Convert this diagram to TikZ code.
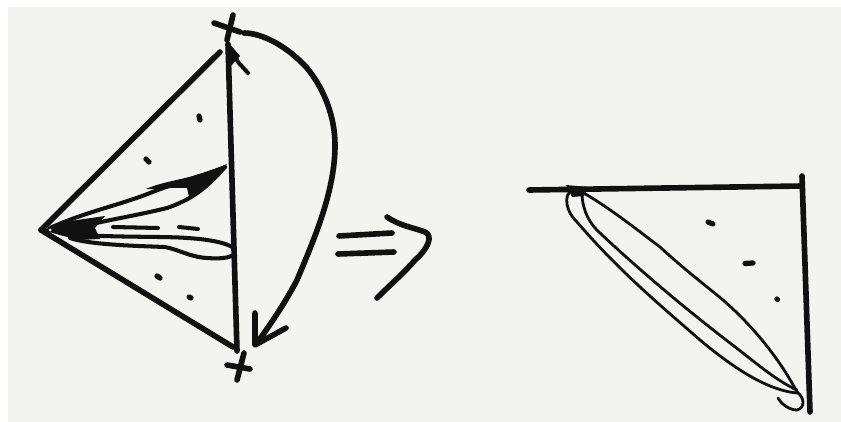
\documentclass[tikz,border=0pt]{standalone}
\usepackage{tikz}
\definecolor{paper}{HTML}{F3F4F0}
\definecolor{ink}{HTML}{111111}
\tikzset{
  heavy/.style={draw=ink, line width=3.2pt, line cap=round, line join=round},
  medium/.style={draw=ink, line width=2.3pt, line cap=round, line join=round},
  thin lobe/.style={draw=ink, line width=1.6pt, line cap=round, line join=round},
  speck/.style={draw=ink, line width=3pt, line cap=round},
}
\begin{document}
\begin{tikzpicture}[x=0.02cm, y=-0.02cm]
    \useasboundingbox (0,0) rectangle (841,422);
    \fill[white] (0,0) rectangle (841,422);
    \fill[paper] (8,7) rectangle (841,422);
    % linke Skizze: Dreieck
    \draw[heavy] (41,230) -- (220,52);
    \draw[heavy] (41,230) -- (233,347);
    \draw[heavy] (228,44) -- (237,351);
    \draw[medium] (232,50) -- (238,62) -- (248,73);
    \fill[ink] (228,42) -- (240,56) -- (231,66) -- cycle;
    % Kreuze
    \draw[heavy] (214,23) -- (240,32);
    \draw[heavy] (233,15) -- (227,40);
    \draw[heavy] (227,365) -- (250,369);
    \draw[heavy] (244,353) -- (237,380);
    % Bogen mit Spitze
    \draw[heavy] (244,33) .. controls (262,33) and (287,46) .. (307,68)
      .. controls (325,90) and (335,118) .. (335,145)
      .. controls (335,190) and (316,235) .. (297,280)
      .. controls (285,303) and (270,325) .. (257,343);
    \draw[heavy] (255,313) -- (255,345) -- (286,328);
    % Keulen links
    \draw[medium] (50,228) .. controls (85,212) and (120,205) .. (150,193)
      .. controls (175,183) and (205,175) .. (225,167);
    \draw[medium] (225,167) .. controls (205,190) and (190,200) .. (167,208)
      .. controls (135,216) and (95,222) .. (58,232);
    \fill[ink] (146,189) .. controls (165,180) and (200,178) .. (227,164)
      .. controls (215,180) and (203,192) .. (189,197) -- (187,188)
      .. controls (170,187) and (155,190) .. (146,189) -- cycle;
    \fill[ink] (42,230) -- (70,221) -- (105,216) -- (95,228) -- (100,239) -- (78,240) -- (60,235) -- cycle;
    \fill[paper] (50,230) circle (1.5);
    \draw[medium] (60,233) .. controls (100,238) and (165,236) .. (187,238)
      .. controls (205,239) and (225,242) .. (234,248);
    \draw[medium] (70,238) .. controls (90,245) and (140,246) .. (165,247)
      .. controls (180,250) and (190,257) .. (207,258)
      .. controls (220,259) and (228,258) .. (234,255);
    \draw[medium] (113,227) -- (158,228);
    \draw[medium] (179,227) -- (198,229);
    % Punkte links
    \draw[speck] (199,116) -- (200,120);
    \draw[speck] (146,159) -- (149,162);
    \draw[speck] (157,276) -- (160,278);
    \draw[speck] (189,297) -- (191,298);
    % Folgepfeil
    \draw[heavy] (339,236) -- (392,233);
    \draw[heavy] (338,254) -- (394,252);
    \draw[heavy] (387,217) .. controls (400,226) and (415,228) .. (425,232)
      .. controls (434,236) and (427,250) .. (415,260)
      .. controls (405,272) and (390,285) .. (377,298);
    % rechte Skizze
    \draw[heavy] (529,190) -- (802,186);
    \draw[heavy] (802,176) -- (810,412);
    \fill[ink] (566,185) -- (588,187) -- (584,196) -- (572,197) -- cycle;
    \draw[thin lobe] (572,190) .. controls (563,195) and (566,212) .. (577,222)
      .. controls (620,272) and (660,305) .. (700,340)
      .. controls (730,365) and (765,390) .. (797,393);
    \draw[thin lobe] (582,195) .. controls (583,212) and (590,224) .. (600,233)
      .. controls (650,280) and (700,320) .. (730,343)
      .. controls (755,362) and (775,380) .. (797,390);
    \draw[thin lobe] (582,192) .. controls (610,208) and (640,232) .. (660,247)
      .. controls (685,270) and (705,285) .. (723,300)
      .. controls (755,328) and (780,360) .. (797,392);
    \draw[thin lobe] (797,392) .. controls (805,398) and (805,408) .. (797,410)
      .. controls (790,410) and (782,405) .. (778,398);
    % Punkte rechts
    \draw[speck] (708,222) -- (713,224);
    \draw[speck] (745,263.5) -- (753,263);
    \draw[speck] (777,299) -- (777.5,299.5);
\end{tikzpicture}
\end{document}
